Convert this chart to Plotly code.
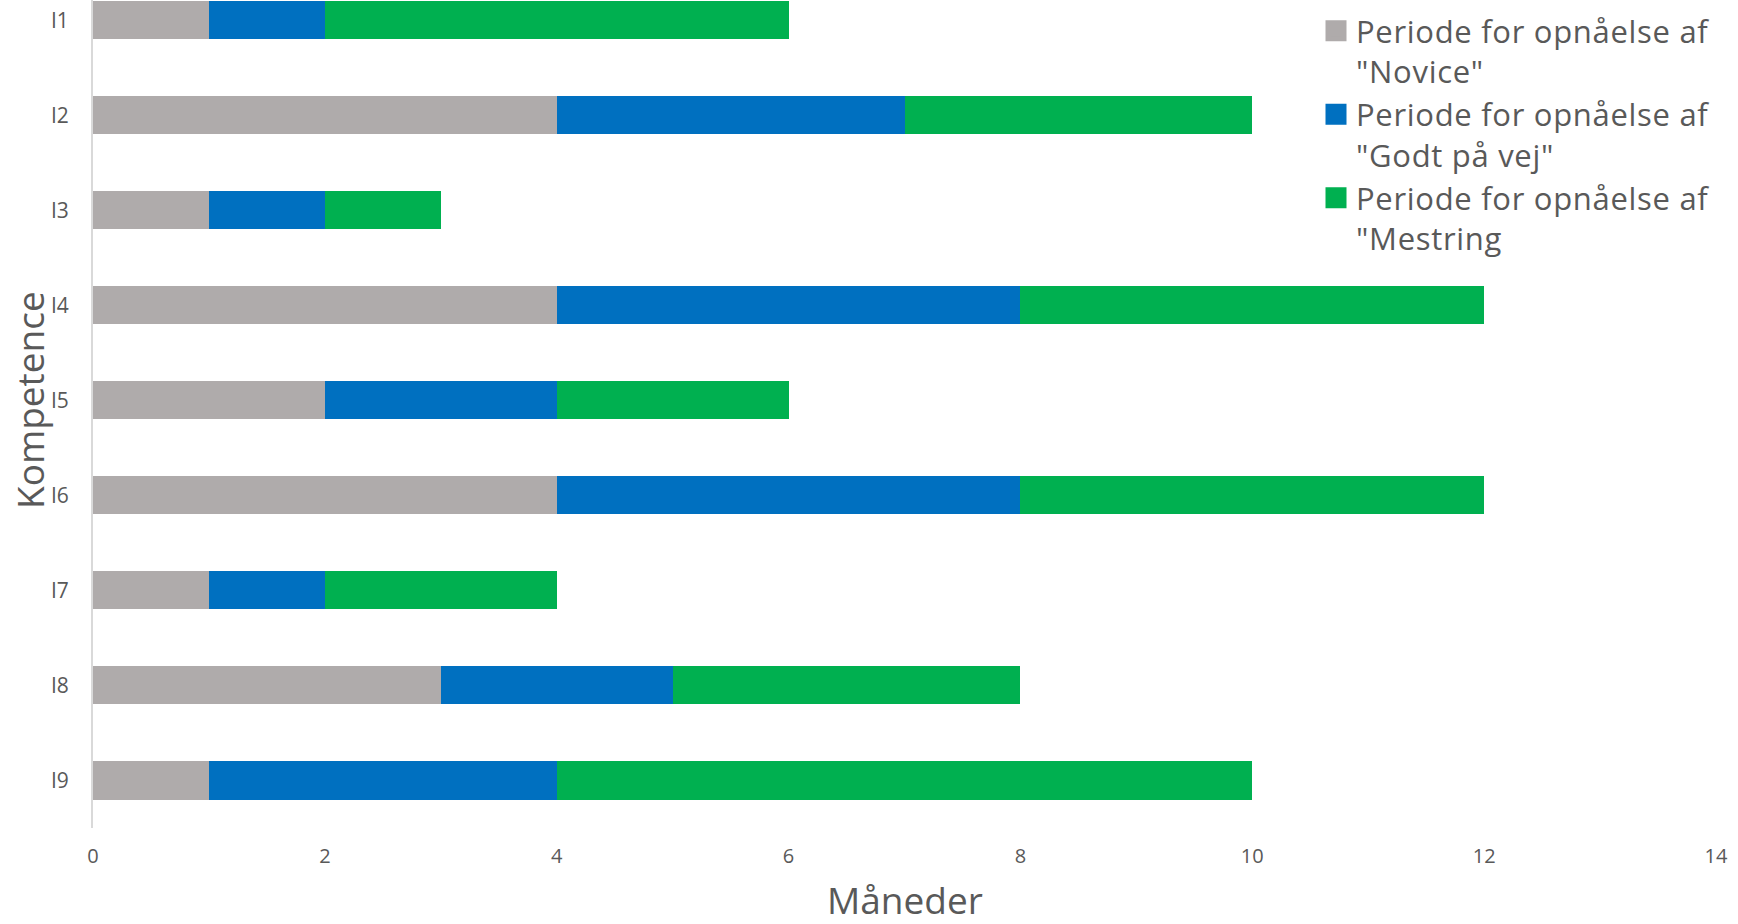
import plotly.graph_objects as go

categories = ["I1", "I2", "I3", "I4", "I5", "I6", "I7", "I8", "I9"]
novice = [1, 4, 1, 4, 2, 4, 1, 3, 1]
godt_paa_vej = [1, 3, 1, 4, 2, 4, 1, 2, 3]
mestring = [4, 3, 1, 4, 2, 4, 2, 3, 6]

series_lines = [
    ("Periode for opnåelse af", '"Novice"'),
    ("Periode for opnåelse af", '"Godt på vej"'),
    ("Periode for opnåelse af", '"Mestring'),
]
colors = ["#AFABAB", "#0070C0", "#00B050"]
x_ticks = [0, 2, 4, 6, 8, 10, 12, 14]

FONT = "Open Sans"
TXT = "#595959"
SP = '<span style="letter-spacing:0.7px">{}</span>'

fig = go.Figure()
for i, ((l1, l2), vals, col) in enumerate(zip(series_lines, [novice, godt_paa_vej, mestring], colors)):
    plain = f"{l1} {l2}"
    fig.add_trace(go.Bar(
        y=categories, x=vals, name=plain, orientation="h",
        marker=dict(color=col, line=dict(width=0)),
        legendgroup=f"g{i}", showlegend=False,
    ))
    # legend-only entry with a larger square swatch
    fig.add_trace(go.Scatter(
        x=[None], y=[None], mode="markers",
        name=SP.format(l1) + "<br>" + SP.format(l2),
        marker=dict(symbol="square", size=16, color=col, line=dict(width=5, color=col)),
        legendgroup=f"g{i}", showlegend=True, hoverinfo="skip",
    ))

W, H = 1738, 924
L, R, T, B = 93, 22, 0, 96
PW, PH = W - L - R, H - T - B

fig.update_layout(
    width=W, height=H,
    barmode="stack", bargap=0.6,
    plot_bgcolor="white", paper_bgcolor="white",
    margin=dict(l=L, r=R, t=T, b=B, autoexpand=False),
    font=dict(family=FONT, color=TXT),
    legend=dict(
        x=1316 / W, xref="container", xanchor="left",
        y=1 - 4 / H, yref="container", yanchor="top",
        font=dict(family=FONT, size=31, color=TXT),
        valign="top", tracegroupgap=0, itemwidth=30,
        traceorder="normal", itemsizing="trace",
        bgcolor="rgba(0,0,0,0)",
    ),
    showlegend=True,
    annotations=[
        dict(
            text="Kompetence", textangle=-90,
            x=(30 - L) / PW, xref="paper", xanchor="center",
            y=1 - 400 / PH, yref="paper", yanchor="middle",
            showarrow=False, font=dict(family=FONT, size=37, color=TXT),
        ),
        dict(
            text="Måneder",
            x=0.5, xref="paper", xanchor="center",
            y=(PH - 872) / PH, yref="paper", yanchor="top",
            showarrow=False, font=dict(family=FONT, size=37, color=TXT),
        ),
    ],
)
fig.update_xaxes(
    range=[0, 14], tickvals=x_ticks, ticktext=[str(v) for v in x_ticks],
    showgrid=False, zeroline=False, showline=False, ticks="",
    tickfont=dict(family=FONT, size=20, color=TXT),
    ticklabelstandoff=14,
)
fig.update_yaxes(
    type="category", categoryorder="array", categoryarray=categories,
    range=[8.5, -0.215],
    showgrid=False, zeroline=False, showline=True, linecolor="#D9D9D9", linewidth=2,
    ticks="", tickfont=dict(family=FONT, size=21, color=TXT),
    ticklabelstandoff=18,
)

fig.write_html(
    "out.html",
    config={"displayModeBar": False},
    post_script="document.body.style.margin='0';",
)
